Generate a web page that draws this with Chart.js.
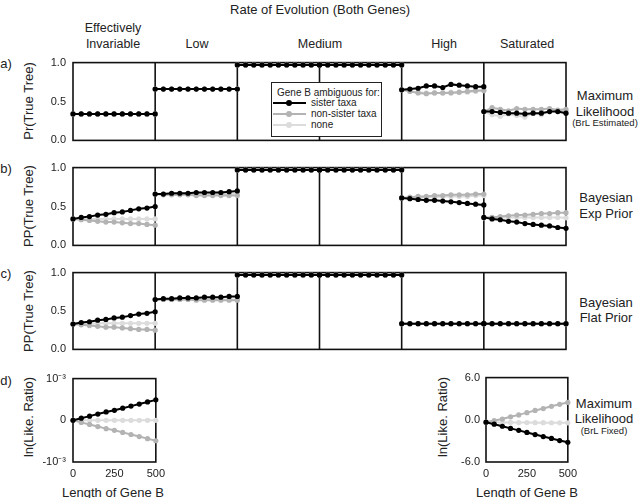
<!DOCTYPE html>
<html>
<head>
<meta charset="utf-8">
<script src="https://cdn.jsdelivr.net/npm/chart.js@4.4.1/dist/chart.umd.min.js"></script>
<style>
  body { margin: 0; background: #fff; }
  #fig { position: relative; width: 640px; height: 498px; overflow: hidden;
         font-family: "Liberation Sans", Arial, sans-serif; color: #222; background: #fff; }
  .t { position: absolute; white-space: nowrap; line-height: 1; transform: translate(-50%, -50%); font-size: 12.5px; }
  .rot { transform: translate(-50%, -50%) rotate(-90deg); font-size: 13px; }
  .small { font-size: 9.5px; }
  canvas { position: absolute; }
  #legend { position: absolute; left: 271px; top: 82px; width: 111px; height: 55px; box-sizing: border-box;
            border: 1.5px solid #222; background: #fff; z-index: 2; font-size: 10px; }
  #legend .lt { position: absolute; left: 5px; top: 4px; white-space: nowrap; }
  #legend .it { position: absolute; left: 0; white-space: nowrap; }
  #legend .sw { position: absolute; left: 1px; width: 33px; height: 2px; top: -1px; }
  #legend .dot { position: absolute; left: 13px; top: -2px; width: 6px; height: 6px; border-radius: 50%; }
  #legend .lab { position: absolute; left: 39px; top: -6px; }
</style>
</head>
<body>
<div id="fig">
  <div class="t" style="left:320px;top:9px;font-size:13px">Rate of Evolution (Both Genes)</div>
  <div class="t" style="left:113px;top:28px">Effectively</div>
  <div class="t" style="left:113px;top:43.5px">Invariable</div>
  <div class="t" style="left:197px;top:43.5px">Low</div>
  <div class="t" style="left:320px;top:43.5px">Medium</div>
  <div class="t" style="left:444px;top:43.5px">High</div>
  <div class="t" style="left:527px;top:43.5px">Saturated</div>

  <div class="t" style="left:6px;top:63px;font-size:13px">a)</div>
  <div class="t" style="left:6px;top:168px;font-size:13px">b)</div>
  <div class="t" style="left:6px;top:273px;font-size:13px">c)</div>
  <div class="t" style="left:6px;top:380px;font-size:13px">d)</div>

  <div class="t rot" style="left:28px;top:101px">Pr(True Tree)</div>
  <div class="t rot" style="left:28px;top:206px">PP(True Tree)</div>
  <div class="t rot" style="left:28px;top:311px">PP(True Tree)</div>
  <div class="t rot" style="left:28px;top:417px">ln(Like. Ratio)</div>
  <div class="t rot" style="left:442px;top:417px">ln(Like. Ratio)</div>

  <div class="t" style="left:605px;top:95px;font-size:13px">Maximum</div>
  <div class="t" style="left:605px;top:110.5px;font-size:13px">Likelihood</div>
  <div class="t small" style="left:605px;top:123px">(BrL Estimated)</div>
  <div class="t" style="left:606px;top:197px;font-size:13px">Bayesian</div>
  <div class="t" style="left:606px;top:212.5px;font-size:13px">Exp Prior</div>
  <div class="t" style="left:606px;top:302px;font-size:13px">Bayesian</div>
  <div class="t" style="left:606px;top:317px;font-size:13px">Flat Prior</div>
  <div class="t" style="left:604px;top:403px;font-size:13px">Maximum</div>
  <div class="t" style="left:604px;top:418px;font-size:13px">Likelihood</div>
  <div class="t small" style="left:604px;top:431px">(BrL Fixed)</div>

  <div class="t" style="left:113px;top:491.5px;font-size:13px">Length of Gene B</div>
  <div class="t" style="left:527px;top:491.5px;font-size:13px">Length of Gene B</div>

  <canvas id="rowA" width="570" height="105" style="left:0;top:49px"></canvas>
  <canvas id="rowB" width="570" height="105" style="left:0;top:154px"></canvas>
  <canvas id="rowC" width="570" height="104" style="left:0;top:259px"></canvas>
  <canvas id="rowDInv" width="170" height="117" style="left:0;top:365px"></canvas>
  <canvas id="rowDSat" width="182" height="117" style="left:400px;top:365px"></canvas>

  <div id="legend"><div class="lt">Gene B ambiguous for:</div></div>
</div>

<script>
// x values inside every panel
const geneLength = [0, 50, 100, 150, 200, 250, 300, 350, 400, 450, 500];
const seriesLabels = ['sister taxa', 'non-sister taxa', 'none'];
const probTicks = [0, 0.5, 1];
const lengthTicks = [0, 250, 500];
const lnTicksInv = [-0.001, 0, 0.001];
const lnTicksSat = [-6, 0, 6];

// panels: eff. invariable, low, medium (x2), high, saturated
// a) ML, branch lengths estimated
const mlSister = [
  [0.34, 0.34, 0.34, 0.34, 0.34, 0.34, 0.34, 0.34, 0.34, 0.34, 0.34],
  [0.66, 0.66, 0.66, 0.66, 0.66, 0.66, 0.66, 0.66, 0.66, 0.66, 0.66],
  [0.97, 0.97, 0.97, 0.97, 0.97, 0.97, 0.97, 0.97, 0.97, 0.97, 0.97],
  [0.97, 0.97, 0.97, 0.97, 0.97, 0.97, 0.97, 0.97, 0.97, 0.97, 0.97],
  [0.65, 0.66, 0.67, 0.70, 0.70, 0.68, 0.72, 0.71, 0.70, 0.69, 0.69],
  [0.37, 0.37, 0.36, 0.35, 0.35, 0.34, 0.35, 0.35, 0.37, 0.37, 0.35]
];
const mlNonSister = [
  [0.34, 0.34, 0.34, 0.34, 0.34, 0.34, 0.34, 0.34, 0.34, 0.34, 0.34],
  [0.66, 0.66, 0.66, 0.66, 0.66, 0.66, 0.66, 0.66, 0.66, 0.66, 0.66],
  [0.97, 0.97, 0.97, 0.97, 0.97, 0.97, 0.97, 0.97, 0.97, 0.97, 0.97],
  [0.97, 0.97, 0.97, 0.97, 0.97, 0.97, 0.97, 0.97, 0.97, 0.97, 0.97],
  [0.65, 0.63, 0.61, 0.60, 0.61, 0.61, 0.61, 0.62, 0.63, 0.64, 0.64],
  [0.37, 0.42, 0.40, 0.38, 0.41, 0.40, 0.40, 0.40, 0.41, 0.39, 0.40]
];
const mlNone = [
  [0.34, 0.34, 0.34, 0.34, 0.34, 0.34, 0.34, 0.34, 0.34, 0.34, 0.34],
  [0.66, 0.66, 0.66, 0.66, 0.66, 0.66, 0.66, 0.66, 0.66, 0.66, 0.66],
  [0.97, 0.97, 0.97, 0.97, 0.97, 0.97, 0.97, 0.97, 0.97, 0.97, 0.97],
  [0.97, 0.97, 0.97, 0.97, 0.97, 0.97, 0.97, 0.97, 0.97, 0.97, 0.97],
  [0.65, 0.63, 0.62, 0.61, 0.61, 0.61, 0.62, 0.62, 0.62, 0.63, 0.64],
  [0.37, 0.33, 0.31, 0.34, 0.32, 0.30, 0.35, 0.33, 0.37, 0.38, 0.37]
];

// b) Bayesian, exponential prior
const expSister = [
  [0.34, 0.36, 0.37, 0.39, 0.40, 0.42, 0.43, 0.45, 0.47, 0.48, 0.50],
  [0.66, 0.66, 0.67, 0.67, 0.67, 0.68, 0.68, 0.68, 0.68, 0.69, 0.70],
  [0.97, 0.97, 0.97, 0.97, 0.97, 0.97, 0.97, 0.97, 0.97, 0.97, 0.97],
  [0.97, 0.97, 0.97, 0.97, 0.97, 0.97, 0.97, 0.97, 0.97, 0.97, 0.97],
  [0.61, 0.60, 0.59, 0.58, 0.58, 0.57, 0.56, 0.55, 0.54, 0.53, 0.52],
  [0.36, 0.34, 0.33, 0.31, 0.30, 0.28, 0.27, 0.26, 0.25, 0.23, 0.22]
];
const expNonSister = [
  [0.34, 0.33, 0.32, 0.31, 0.30, 0.30, 0.29, 0.28, 0.28, 0.27, 0.26],
  [0.66, 0.65, 0.65, 0.65, 0.65, 0.64, 0.64, 0.64, 0.64, 0.64, 0.64],
  [0.97, 0.97, 0.97, 0.97, 0.97, 0.97, 0.97, 0.97, 0.97, 0.97, 0.97],
  [0.97, 0.97, 0.97, 0.97, 0.97, 0.97, 0.97, 0.97, 0.97, 0.97, 0.97],
  [0.61, 0.62, 0.63, 0.63, 0.64, 0.64, 0.65, 0.65, 0.65, 0.66, 0.66],
  [0.36, 0.36, 0.37, 0.38, 0.39, 0.39, 0.40, 0.41, 0.41, 0.42, 0.42]
];
const expNone = [
  [0.34, 0.34, 0.34, 0.34, 0.34, 0.34, 0.34, 0.34, 0.34, 0.34, 0.34],
  [0.66, 0.66, 0.66, 0.66, 0.66, 0.66, 0.66, 0.66, 0.66, 0.66, 0.66],
  [0.97, 0.97, 0.97, 0.97, 0.97, 0.97, 0.97, 0.97, 0.97, 0.97, 0.97],
  [0.97, 0.97, 0.97, 0.97, 0.97, 0.97, 0.97, 0.97, 0.97, 0.97, 0.97],
  [0.61, 0.61, 0.62, 0.62, 0.62, 0.63, 0.63, 0.63, 0.63, 0.64, 0.64],
  [0.355, 0.36, 0.36, 0.36, 0.36, 0.36, 0.36, 0.36, 0.36, 0.36, 0.355]
];

// c) Bayesian, flat prior
const flatSister = [
  [0.33, 0.35, 0.36, 0.38, 0.39, 0.41, 0.42, 0.44, 0.46, 0.47, 0.49],
  [0.65, 0.66, 0.66, 0.67, 0.67, 0.67, 0.68, 0.68, 0.68, 0.69, 0.69],
  [0.97, 0.97, 0.97, 0.97, 0.97, 0.97, 0.97, 0.97, 0.97, 0.97, 0.97],
  [0.97, 0.97, 0.97, 0.97, 0.97, 0.97, 0.97, 0.97, 0.97, 0.97, 0.97],
  [0.335, 0.335, 0.335, 0.335, 0.335, 0.335, 0.335, 0.335, 0.335, 0.335, 0.335],
  [0.335, 0.335, 0.335, 0.335, 0.335, 0.335, 0.335, 0.335, 0.335, 0.335, 0.335]
];
const flatNonSister = [
  [0.33, 0.32, 0.31, 0.30, 0.29, 0.29, 0.28, 0.27, 0.26, 0.26, 0.25],
  [0.65, 0.65, 0.65, 0.65, 0.65, 0.64, 0.64, 0.64, 0.64, 0.64, 0.64],
  [0.97, 0.97, 0.97, 0.97, 0.97, 0.97, 0.97, 0.97, 0.97, 0.97, 0.97],
  [0.97, 0.97, 0.97, 0.97, 0.97, 0.97, 0.97, 0.97, 0.97, 0.97, 0.97],
  [0.335, 0.335, 0.335, 0.335, 0.335, 0.335, 0.335, 0.335, 0.335, 0.335, 0.335],
  [0.335, 0.335, 0.335, 0.335, 0.335, 0.335, 0.335, 0.335, 0.335, 0.335, 0.335]
];
const flatNone = [
  [0.33, 0.33, 0.33, 0.34, 0.34, 0.34, 0.34, 0.34, 0.34, 0.34, 0.34],
  [0.65, 0.65, 0.65, 0.65, 0.65, 0.65, 0.65, 0.65, 0.65, 0.65, 0.65],
  [0.97, 0.97, 0.97, 0.97, 0.97, 0.97, 0.97, 0.97, 0.97, 0.97, 0.97],
  [0.97, 0.97, 0.97, 0.97, 0.97, 0.97, 0.97, 0.97, 0.97, 0.97, 0.97],
  [0.335, 0.335, 0.335, 0.335, 0.335, 0.335, 0.335, 0.335, 0.335, 0.335, 0.335],
  [0.335, 0.335, 0.335, 0.335, 0.335, 0.335, 0.335, 0.335, 0.335, 0.335, 0.335]
];

// d) ln likelihood ratio, ML with fixed branch lengths
const lnInvSister    = [[0, 0.00005, 0.0001, 0.00015, 0.0002, 0.00024, 0.00029, 0.00034, 0.00039, 0.00044, 0.00049]];
const lnInvNonSister = [[0, -0.00005, -0.0001, -0.00015, -0.0002, -0.00024, -0.00029, -0.00034, -0.00039, -0.00044, -0.00049]];
const lnInvNone      = [[0, 0, 0, 0, 0, 0, 0, 0, 0, 0, 0]];
const lnSatSister    = [[-0.34, -0.62, -0.92, -1.22, -1.5, -1.8, -2.1, -2.38, -2.65, -2.95, -3.19]];
const lnSatNonSister = [[-0.34, -0.1, 0.11, 0.43, 0.7, 1.02, 1.33, 1.6, 1.92, 2.2, 2.47]];
const lnSatNone      = [[-0.34, -0.36, -0.37, -0.38, -0.39, -0.4, -0.41, -0.41, -0.42, -0.43, -0.43]];

const seriesColors = ['#000000', '#b3b3b3', '#dcdcdc'];
const FONT = { family: '"Liberation Sans", Arial, sans-serif', size: 11 };

// legend box
const legend = document.getElementById('legend');
seriesLabels.forEach((lab, i) => {
  const it = document.createElement('div');
  it.className = 'it';
  it.style.top = (20 + i * 10.8) + 'px';
  it.innerHTML = `<span class="sw" style="background:${seriesColors[i]}"><span class="dot" style="background:${seriesColors[i]}"></span></span><span class="lab">${lab}</span>`;
  legend.appendChild(it);
});

// panel frames + dividers
const framePlugin = {
  id: 'frame',
  beforeDatasetsDraw(chart, args, opts) {
    const { ctx, chartArea: a, scales } = chart;
    ctx.save();
    ctx.strokeStyle = '#111';
    ctx.lineWidth = 1.6;
    ctx.strokeRect(a.left, a.top, a.right - a.left, a.bottom - a.top);
    (opts.dividers || []).forEach(v => {
      const px = scales.x.getPixelForValue(v);
      ctx.beginPath();
      ctx.moveTo(px, a.top);
      ctx.lineTo(px, a.bottom);
      ctx.stroke();
    });
    ctx.restore();
  }
};

function panelSets(seriesList) {
  const sets = [];
  seriesList.forEach((panels, s) => {
    panels.forEach((vals, p) => {
      sets.push({
        label: seriesLabels[s],
        data: geneLength.map((L, i) => ({ x: p * 500 + L, y: vals[i] })),
        borderColor: seriesColors[s],
        backgroundColor: seriesColors[s],
        borderWidth: 2,
        pointRadius: 2.6,
        pointBorderWidth: 0,
        clip: false,
        order: s
      });
    });
  });
  return sets;
}

function yScale(ticks, width, pad, fmt) {
  return {
    min: ticks[0], max: ticks[ticks.length - 1],
    afterFit: s => { s.width = width; },
    afterBuildTicks: s => { s.ticks = ticks.map(v => ({ value: v })); },
    grid: { display: false, drawTicks: false },
    border: { display: false },
    ticks: { padding: pad, color: '#222', font: FONT, callback: fmt }
  };
}

function makeRow(id, seriesList) {
  new Chart(document.getElementById(id), {
    type: 'line',
    data: { datasets: panelSets(seriesList) },
    options: {
      responsive: false,
      animation: false,
      layout: { padding: { top: 8, bottom: 8, left: 0, right: 2 } },
      plugins: { legend: { display: false }, tooltip: { enabled: false },
                 frame: { dividers: [500, 1000, 1500, 2000, 2500] } },
      scales: {
        x: { type: 'linear', min: 0, max: 3000, display: false },
        y: yScale(probTicks, 73, 7, v => v.toFixed(1))
      }
    },
    plugins: [framePlugin]
  });
}

function makeLn(id, seriesList, ticks, yWidth, pad, fmt) {
  new Chart(document.getElementById(id), {
    type: 'line',
    data: { datasets: panelSets(seriesList) },
    options: {
      responsive: false,
      animation: false,
      layout: { padding: { top: 8, bottom: 0, left: 0, right: 14 } },
      plugins: { legend: { display: false }, tooltip: { enabled: false }, frame: {} },
      scales: {
        x: {
          type: 'linear', min: 0, max: 500,
          afterFit: s => { s.height = 20; },
          afterBuildTicks: s => { s.ticks = lengthTicks.map(v => ({ value: v })); },
          grid: { display: false, drawTicks: false },
          border: { display: false },
          ticks: { padding: 5, color: '#222', font: FONT, maxRotation: 0, autoSkip: false }
        },
        y: yScale(ticks, yWidth, pad, fmt)
      }
    },
    plugins: [framePlugin]
  });
}

makeRow('rowA', [mlSister, mlNonSister, mlNone]);
makeRow('rowB', [expSister, expNonSister, expNone]);
makeRow('rowC', [flatSister, flatNonSister, flatNone]);
makeLn('rowDInv', [lnInvSister, lnInvNonSister, lnInvNone], lnTicksInv, 73, 7,
  v => Math.abs(v) < 1e-9 ? '0' : (v > 0 ? '10⁻³' : '-10⁻³'));
makeLn('rowDSat', [lnSatSister, lnSatNonSister, lnSatNone], lnTicksSat, 86, 6, v => v.toFixed(1));
</script>
</body>
</html>
